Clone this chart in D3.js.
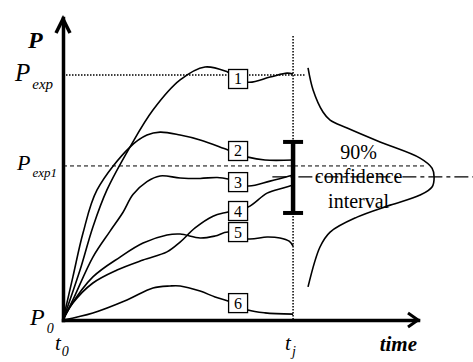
<!DOCTYPE html>
<html>
<head>
<meta charset="utf-8">
<script src="https://cdn.jsdelivr.net/npm/d3@7"></script>
<style>
  html, body { margin: 0; padding: 0; background: #fff; }
  svg { display: block; }
  svg text { font-family: "Liberation Serif", "Times New Roman", "DejaVu Serif", serif; }
</style>
</head>
<body>
<div id="chart"></div>
<script>
// time runs t0 = 0 .. tj = 10, P runs P0 = 0 .. Pexp = 10
const timeMax = 15.43;
const levelMax = 12.33;
const tj = 10;
const pExp = 10;
const pExp1 = 6.29;
const pMean = 5.84;
const ciLow = 4.37;
const ciHigh = 7.27;

const timeTicks = [0, tj];
const timeTickLabels = [['t', '0'], ['t', 'j']];
const levelTicks = [0, pExp1, pExp];
const levelTickLabels = [['P', '0'], ['P', 'exp1'], ['P', 'exp']];

const curve1 = [[0, 0], [0.74, 2.04], [1.30, 3.80], [1.91, 5.31], [2.91, 7.06], [3.91, 8.57], [5.09, 9.80], [6.17, 10.33], [7.17, 10.12], [8.04, 9.71], [9.0, 9.92], [9.74, 10.08], [10, 10.04]];
const curve2 = [[0, 0], [0.43, 1.76], [0.87, 3.55], [1.48, 5.31], [2.91, 7.06], [3.65, 7.55], [4.22, 7.67], [5.09, 7.55], [5.96, 7.35], [7.17, 6.94], [8.04, 6.65], [8.78, 6.53], [10, 6.53]];
const curve3 = [[0, 0], [0.43, 0.82], [1.30, 2.57], [2.04, 3.62], [2.61, 4.40], [3.04, 5.12], [3.65, 5.65], [4.22, 5.88], [5.09, 5.80], [5.96, 5.78], [6.70, 5.82], [7.17, 5.76], [8.04, 5.47], [9.0, 5.67], [10, 5.92]];
const curve4 = [[0, 0], [0.43, 0.69], [1.30, 1.51], [2.35, 2.04], [3.48, 2.45], [4.52, 2.78], [5.09, 3.18], [5.74, 3.76], [6.52, 4.24], [7.17, 4.41], [8.04, 4.61], [8.87, 5.18], [9.57, 5.39], [10, 5.51]];
const curve5 = [[0, 0], [0.30, 0.53], [1.30, 1.76], [2.48, 2.57], [3.48, 3.14], [4.52, 3.47], [5.09, 3.51], [5.96, 3.35], [6.61, 3.43], [7.17, 3.59], [8.04, 3.31], [8.87, 3.39], [9.43, 3.35], [9.83, 3.22], [10, 3.02]];
const curve6 = [[0, 0], [1.30, 0.29], [2.78, 0.82], [3.91, 1.31], [4.65, 1.39], [5.09, 1.39], [5.96, 1.18], [6.61, 0.94], [7.17, 0.78], [8.04, 0.41], [8.78, 0.29], [10, 0.24]];
const curves = [curve1, curve2, curve3, curve4, curve5, curve6];

const boxLabels = ['1', '2', '3', '4', '5', '6'];
const boxTime = 7.61;
const boxLevels = [9.84, 6.90, 5.63, 4.45, 3.59, 0.69];

// distribution drawn sideways at the right
const bell = [[10.65, 10.29], [10.87, 9.39], [11.30, 8.49], [11.61, 8.16], [12.35, 7.84], [13.78, 7.27], [15.52, 6.61], [16.04, 6.20], [16.13, 5.84], [16.04, 5.43], [15.52, 5.10], [14.22, 4.69], [12.78, 4.20], [11.61, 3.59], [11.17, 2.98], [10.65, 1.35]];
const ciText = ['90%', 'confidence', 'interval'];

const width = 473;
const height = 362;

const svg = d3.select('#chart')
  .append('svg')
  .attr('width', width)
  .attr('height', height);

const x = d3.scaleLinear().domain([0, timeMax]).range([63, 418]);
const y = d3.scaleLinear().domain([0, levelMax]).range([320, 18]);

// reference lines
svg.append('line')
  .attr('x1', x(0)).attr('x2', x(10.55))
  .attr('y1', y(pExp)).attr('y2', y(pExp))
  .attr('stroke', '#000').attr('stroke-width', 1.5)
  .attr('stroke-dasharray', '1.5,1.5');

svg.append('line')
  .attr('x1', x(0)).attr('x2', x(15.8))
  .attr('y1', y(pExp1)).attr('y2', y(pExp1))
  .attr('stroke', '#000').attr('stroke-width', 1)
  .attr('stroke-dasharray', '4,3');

svg.append('line')
  .attr('x1', x(tj)).attr('x2', x(tj))
  .attr('y1', y(11.6)).attr('y2', y(0))
  .attr('stroke', '#000').attr('stroke-width', 1.5)
  .attr('stroke-dasharray', '1.5,1.5');

svg.append('line')
  .attr('x1', x(9.1)).attr('x2', width)
  .attr('y1', y(pMean)).attr('y2', y(pMean))
  .attr('stroke', '#000').attr('stroke-width', 1.2)
  .attr('stroke-dasharray', '14,4,4,4');

// realisations
const line = d3.line()
  .x(d => x(d[0]))
  .y(d => y(d[1]))
  .curve(d3.curveCatmullRom.alpha(0.5));

svg.append('g')
  .selectAll('path')
  .data(curves)
  .enter()
  .append('path')
  .attr('d', line)
  .attr('fill', 'none')
  .attr('stroke', '#000')
  .attr('stroke-width', 1.6);

svg.append('path')
  .attr('d', line(bell))
  .attr('fill', 'none')
  .attr('stroke', '#000')
  .attr('stroke-width', 1.6);

// boxes with numbers
const box = svg.append('g')
  .selectAll('g')
  .data(boxLabels)
  .enter()
  .append('g')
  .attr('transform', (d, i) => `translate(${x(boxTime)},${y(boxLevels[i])})`);

box.append('rect')
  .attr('x', -9.5).attr('y', -9.5)
  .attr('width', 19).attr('height', 19)
  .attr('fill', '#fff')
  .attr('stroke', '#000')
  .attr('stroke-width', 1.3);

box.append('text')
  .attr('text-anchor', 'middle')
  .attr('dy', 5.5)
  .style('font-size', '16px')
  .text(d => d);

// confidence interval bar
const ci = svg.append('g').attr('stroke', '#000');
ci.append('line')
  .attr('x1', x(tj)).attr('x2', x(tj))
  .attr('y1', y(ciHigh)).attr('y2', y(ciLow))
  .attr('stroke-width', 4.5);
ci.selectAll('line.cap')
  .data([ciLow, ciHigh])
  .enter()
  .append('line')
  .attr('class', 'cap')
  .attr('x1', x(tj) - 10).attr('x2', x(tj) + 10)
  .attr('y1', d => y(d)).attr('y2', d => y(d))
  .attr('stroke-width', 4);

svg.append('g')
  .selectAll('text')
  .data(ciText)
  .enter()
  .append('text')
  .attr('x', x(12.85))
  .attr('y', (d, i) => y(pMean) - 18 + i * 24.5)
  .attr('text-anchor', 'middle')
  .style('font-size', '20px')
  .text(d => d);

// axes
const xAxis = d3.axisBottom(x).tickValues([]).tickSizeOuter(0);
const yAxis = d3.axisLeft(y).tickValues([]).tickSizeOuter(0);

svg.append('g')
  .attr('class', 'x axis')
  .attr('transform', `translate(0,${y(0)})`)
  .call(xAxis);
svg.append('g')
  .attr('class', 'y axis')
  .attr('transform', `translate(${x(0)},0)`)
  .call(yAxis);
svg.selectAll('.axis path.domain')
  .attr('stroke', '#000')
  .attr('stroke-width', 3.5)
  .attr('stroke-linecap', 'square');

// arrow heads
const xEnd = x(timeMax);
const yEnd = y(levelMax);
svg.append('path')
  .attr('d', `M ${xEnd - 10} ${y(0) - 7} L ${xEnd} ${y(0)} L ${xEnd - 10} ${y(0) + 7}`)
  .attr('fill', 'none').attr('stroke', '#000').attr('stroke-width', 3);
svg.append('path')
  .attr('d', `M ${x(0) - 7} ${yEnd + 15} L ${x(0)} ${yEnd + 1} L ${x(0) + 7} ${yEnd + 15}`)
  .attr('fill', 'none').attr('stroke', '#000').attr('stroke-width', 3.5);

// axis titles
svg.append('text')
  .attr('x', 28).attr('y', 48)
  .style('font-size', '24px').style('font-weight', 'bold').style('font-style', 'italic')
  .text('P');
svg.append('text')
  .attr('x', xEnd - 1).attr('y', 351)
  .attr('text-anchor', 'end')
  .style('font-size', '21px').style('font-weight', 'bold').style('font-style', 'italic')
  .text('time');

// level labels with subscripts
const levelSizes = [[24, 14], [22, 13], [25, 15]];
const levelLabel = svg.append('g')
  .selectAll('text')
  .data(levelTicks)
  .enter()
  .append('text')
  .attr('x', (d, i) => [30, 17, 15][i])
  .attr('y', (d, i) => y(d) + [5, 4, 6][i]);
levelLabel.append('tspan')
  .style('font-size', (d, i) => `${levelSizes[i][0]}px`)
  .style('font-style', 'italic')
  .text((d, i) => levelTickLabels[i][0]);
levelLabel.append('tspan')
  .attr('dy', (d, i) => [8, 7, 8][i])
  .attr('dx', 2)
  .style('font-size', (d, i) => `${levelSizes[i][1]}px`)
  .style('font-style', 'italic')
  .text((d, i) => levelTickLabels[i][1]);

const timeLabel = svg.append('g')
  .selectAll('text')
  .data(timeTicks)
  .enter()
  .append('text')
  .attr('x', d => x(d) - 8)
  .attr('y', 350);
timeLabel.append('tspan')
  .style('font-size', '21px')
  .style('font-style', 'italic')
  .text((d, i) => timeTickLabels[i][0]);
timeLabel.append('tspan')
  .attr('dy', 6)
  .attr('dx', 1)
  .style('font-size', '14px')
  .style('font-style', 'italic')
  .text((d, i) => timeTickLabels[i][1]);
</script>
</body>
</html>
